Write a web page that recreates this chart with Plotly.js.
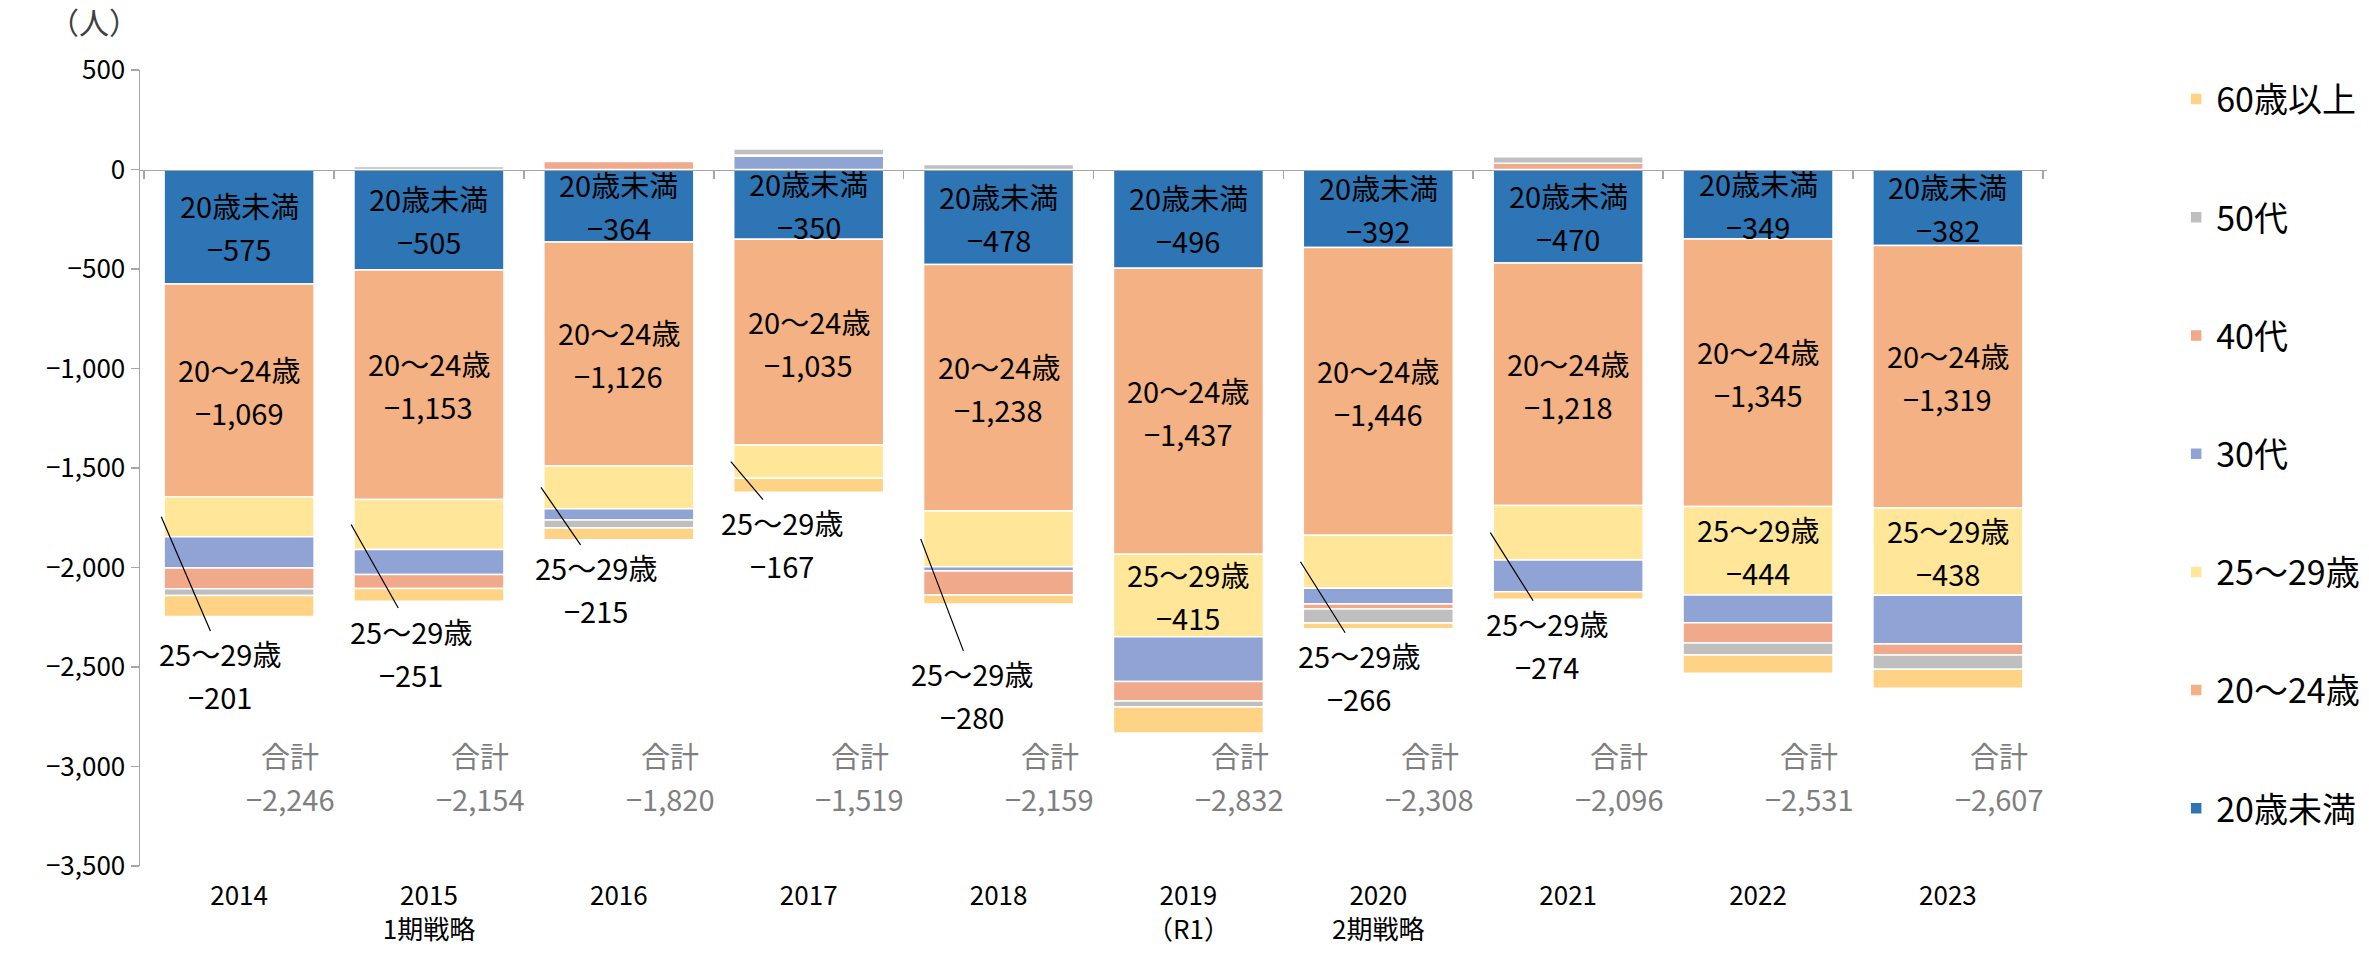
<!DOCTYPE html>
<html>
<head>
<meta charset="utf-8">
<script src="https://cdn.plot.ly/plotly-3.0.1.min.js"></script>
<style>html,body{margin:0;padding:0;background:#fff;}#chart{width:2369px;height:957px;}</style>
</head>
<body>
<div id="chart"></div>
<script>
// ---- data ----
const years = ['2014','2015','2016','2017','2018','2019','2020','2021','2022','2023'];
const tickLabels = ['2014','2015<br>1期戦略','2016','2017','2018','2019<br>（R1）','2020<br>2期戦略','2021','2022','2023'];
const seriesNames = ['20歳未満','20～24歳','25～29歳','30代','40代','50代','60歳以上'];
const under20   = [-575,-505,-364,-350,-478,-496,-392,-470,-349,-382];
const age20_24  = [-1069,-1153,-1126,-1035,-1238,-1437,-1446,-1218,-1345,-1319];
const age25_29  = [-201,-251,-215,-167,-280,-415,-266,-274,-444,-438];
const age30s    = [-157,-126,-56,67,-22,-225,-80,-160,-140,-246];
const age40s    = [-105,-71,40,6,-120,-98,-25,32,-101,-55];
const age50s    = [-34,15,-40,30,25,-30,-70,32,-61,-71];
const age60plus = [-105,-63,-59,-70,-46,-131,-29,-38,-91,-96];
const yTicks = [500,0,-500,-1000,-1500,-2000,-2500,-3000,-3500];

// ---- styling / layout helpers ----
const colors = ['#2E75B6','#F4B183','#FFE699','#8FA3D4','#F0A98B','#BFBFBF','#FFD386'];
const FONT = '"Noto Sans CJK JP", "Noto Sans", sans-serif';
const LABEL_SIZE = 29;
const HALF_LINE = 21.5;   // px offset of each label line from its anchor
// 25～29歳 labels drawn inside these bars; the others use callouts
const inside2529 = ['2019','2022','2023'];
// callout first-line placement: [x offset in categories, y in data units]
const calloutPos = {
  '2014':[-0.10,-2432], '2015':[-0.095,-2317], '2016':[-0.12,-1999], '2017':[-0.14,-1772],
  '2018':[-0.14,-2532], '2020':[-0.10,-2441], '2021':[-0.11,-2280]
};
const TOTAL_Y = -3050;
const TOTAL_DX = 0.27;

function fmt(v){
  const s = Math.abs(v).toLocaleString('en-US');
  return (v < 0 ? '\u2212' : '') + s;
}

const allSeries = [under20, age20_24, age25_29, age30s, age40s, age50s, age60plus];

const traces = allSeries.map((vals, k) => ({
  type: 'bar',
  name: seriesNames[k],
  legendgroup: seriesNames[k],
  legendrank: 100 - k * 10,
  x: years,
  y: vals,
  marker: {color: colors[k], line: {color: '#ffffff', width: 1.5}},
  hoverinfo: 'skip'
}));

// invisible helper trace to carry the zero-line axis with boundary ticks
traces.push({type:'scatter', x: years, y: years.map(()=>null), xaxis:'x2', yaxis:'y',
  showlegend:false, hoverinfo:'skip', mode:'markers', marker:{opacity:0}});

const annotations = [];
function twoLine(x, y, l1, l2, color){
  annotations.push({x: x, y: y, xref:'x', yref:'y', showarrow:false, yshift: HALF_LINE,
    text: l1, font:{family:FONT, size:LABEL_SIZE, color:color}});
  annotations.push({x: x, y: y, xref:'x', yref:'y', showarrow:false, yshift: -HALF_LINE,
    text: l2, font:{family:FONT, size:LABEL_SIZE, color:color}});
}

years.forEach((yr, i) => {
  const b1 = under20[i];
  const b2 = b1 + age20_24[i];
  const b3 = b2 + age25_29[i];
  // in-bar labels
  twoLine(i, b1 / 2, seriesNames[0], fmt(under20[i]), '#000');
  twoLine(i, (b1 + b2) / 2, seriesNames[1], fmt(age20_24[i]), '#000');
  if (inside2529.includes(yr)) {
    twoLine(i, (b2 + b3) / 2, seriesNames[2], fmt(age25_29[i]), '#000');
  } else {
    const p = calloutPos[yr];
    annotations.push({
      x: i - 0.41, y: (b2 + b3) / 2, xref: 'x', yref: 'y',
      ax: i + p[0], ay: p[1], axref: 'x', ayref: 'y',
      showarrow: true, arrowhead: 0, arrowwidth: 1.2, arrowcolor: '#000', standoff: 0,
      text: seriesNames[2], font: {family: FONT, size: LABEL_SIZE, color: '#000'}
    });
    annotations.push({
      x: i + p[0], y: p[1], xref: 'x', yref: 'y', showarrow: false, yshift: -2 * HALF_LINE,
      text: fmt(age25_29[i]), font: {family: FONT, size: LABEL_SIZE, color: '#000'}
    });
  }
  // totals
  const total = allSeries.reduce((s, arr) => s + arr[i], 0);
  twoLine(i + TOTAL_DX, TOTAL_Y, '合計', fmt(total), '#7F7F7F');
});

// unit label
annotations.push({
  x: -0.024, y: 1.062, xref: 'paper', yref: 'paper', showarrow: false,
  xanchor: 'center', yanchor: 'middle',
  text: '（人）', font: {family: FONT, size: 30, color: '#404040'}
});

const layout = {
  width: 2369, height: 957,
  margin: {l: 140, r: 322, t: 70, b: 91, autoexpand: false},
  paper_bgcolor: '#fff', plot_bgcolor: '#fff',
  barmode: 'relative',
  bargap: 0.21,
  font: {family: FONT, size: 26, color: '#000'},
  showlegend: true,
  legend: {
    xref: 'container', x: 0.9186, xanchor: 'left',
    yref: 'paper', y: 0.9994, yanchor: 'top',
    traceorder: 'grouped', tracegroupgap: 71, maxheight: 1000,
    font: {family: FONT, size: 34, color: '#000'}
  },
  xaxis: {
    type: 'category', tickvals: years, ticktext: tickLabels,
    showline: false, showgrid: false, zeroline: false, ticks: '',
    ticklabelstandoff: 12,
    tickfont: {family: FONT, size: 26, color: '#000'},
    fixedrange: true
  },
  xaxis2: {
    type: 'category', matches: 'x', overlaying: 'x', anchor: 'free', position: 0.875,
    showline: true, linecolor: '#A6A6A6', linewidth: 1.5,
    ticks: 'outside', tickson: 'boundaries', ticklen: 8, tickcolor: '#A6A6A6', tickwidth: 1.5,
    showticklabels: false, showgrid: false, zeroline: false
  },
  yaxis: {
    range: [-3500, 500], tickvals: yTicks, ticktext: yTicks.map(fmt),
    showline: true, linecolor: '#A6A6A6', linewidth: 1.5,
    ticks: 'outside', ticklen: 8, tickcolor: '#A6A6A6', tickwidth: 1.5,
    showgrid: false, zeroline: false,
    tickfont: {family: FONT, size: 26, color: '#000'},
    fixedrange: true
  },
  annotations: annotations
};

Plotly.newPlot('chart', traces, layout, {displayModeBar: false, staticPlot: true});
</script>
</body>
</html>
